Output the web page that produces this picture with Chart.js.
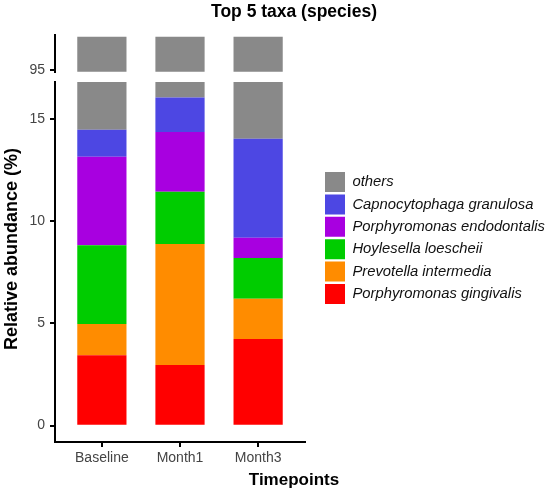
<!DOCTYPE html>
<html>
<head>
<meta charset="utf-8">
<script src="https://cdn.jsdelivr.net/npm/chart.js@4.4.0/dist/chart.umd.min.js"></script>
<style>
  html, body { margin: 0; padding: 0; background: #fff; }
  #wrap { position: relative; width: 550px; height: 495px; }
  #upper { position: absolute; left: 0; top: 0; }
  #lower { position: absolute; left: 0; top: 68px; }
</style>
</head>
<body>
<div id="wrap">
  <canvas id="upper" width="550" height="86"></canvas>
  <canvas id="lower" width="550" height="427"></canvas>
</div>
<script>
// Data (relative abundance, %)
const timepoints = ['Baseline', 'Month1', 'Month3'];
const taxa = ['Porphyromonas gingivalis', 'Prevotella intermedia', 'Hoylesella loescheii',
              'Porphyromonas endodontalis', 'Capnocytophaga granulosa', 'others'];
const pGingivalis   = [3.44, 2.97, 4.24];
const pIntermedia   = [1.53, 5.91, 1.96];
const hLoescheii    = [3.85, 2.56, 2.00];
const pEndodontalis = [4.32, 2.92, 0.99];
const cGranulosa    = [1.32, 1.68, 4.83];
const others        = [85.54, 83.96, 85.98];
const lowerTicks = [0, 5, 10, 15];
const upperTicks = [95];

const seriesValues = [pGingivalis, pIntermedia, hLoescheii, pEndodontalis, cGranulosa, others];
const taxaColors = ['#ff0000', '#ff8c00', '#00cc00', '#a800e0', '#4d47e3', '#898989'];
const chartTitle = 'Top 5 taxa (species)';
const xTitle = 'Timepoints';
const yTitle = 'Relative abundance (%)';

const FONT = "'Liberation Sans', Arial, sans-serif";
Chart.defaults.font.family = FONT;
Chart.defaults.animation = false;

function makeDatasets() {
    return taxa.map((name, i) => ({
        label: name,
        data: seriesValues[i],
        backgroundColor: taxaColors[i],
        borderWidth: 0,
        barPercentage: 0.63,
        categoryPercentage: 1,
        clip: 0
    }));
}

function xScale(display) {
    const s = {
        type: 'linear',
        stacked: true,
        display: display,
        offset: false,
        min: 0.4,
        max: 3.6,
        afterBuildTicks: sc => { sc.ticks = timepoints.map((t, i) => ({ value: i + 1 })); },
        ticks: {
            callback: v => timepoints[v - 1],
            color: '#444',
            font: { size: 14 },
            padding: 3,
            maxRotation: 0,
            autoSkip: false
        },
        grid: { offset: false, drawOnChartArea: false, color: '#000', lineWidth: 2, tickLength: 5 },
        border: { display: true, color: '#000', width: 2 }
    };
    if (display) s.afterFit = sc => { sc.height = 24; };
    return s;
}

function yScale(min, max, tickValues) {
    return {
        stacked: true,
        min: min,
        max: max,
        afterBuildTicks: s => { s.ticks = tickValues.map(v => ({ value: v })); },
        afterFit: s => { s.width = 55; },
        ticks: { color: '#444', font: { size: 14 }, padding: 5 },
        grid: { drawOnChartArea: false, color: '#000', lineWidth: 2, tickLength: 5 },
        border: { display: true, color: '#000', width: 2 }
    };
}

// empty axis used only as a spacer on the right of the plot
function gapScale(width) {
    return {
        type: 'linear',
        position: 'right',
        display: true,
        grid: { display: false },
        border: { display: false },
        ticks: { display: false },
        afterFit: s => { s.width = width; }
    };
}

// axis titles span the broken axis / the whole figure, so draw them by hand
const axisTitlePlugin = {
    id: 'axisTitles',
    afterDraw(chart) {
        const ctx = chart.ctx;
        ctx.save();
        ctx.fillStyle = '#000';
        ctx.textAlign = 'center';
        ctx.textBaseline = 'middle';
        ctx.font = 'bold 17px ' + FONT;
        ctx.fillText(xTitle, 294, 412);
        ctx.translate(12, 181);
        ctx.rotate(-Math.PI / 2);
        ctx.font = 'bold 18px ' + FONT;
        ctx.fillText(yTitle, 0, 0);
        ctx.restore();
    }
};

// Upper panel (95-100)
new Chart(document.getElementById('upper'), {
    type: 'bar',
    data: { labels: timepoints.map((t, i) => i + 1), datasets: makeDatasets() },
    options: {
        responsive: false,
        layout: { padding: { left: 0, right: -38, top: 0, bottom: 14.3 } },
        scales: {
            x: xScale(false),
            y: yScale(94.75, 100.25, upperTicks),
            gap: gapScale(283)
        },
        plugins: {
            legend: { display: false },
            tooltip: { enabled: false },
            title: {
                display: true,
                text: chartTitle,
                color: '#000',
                font: { size: 17.5, weight: 'bold' },
                padding: { top: 2, bottom: 12 }
            }
        }
    }
});

// Lower panel (0-16)
const lower = new Chart(document.getElementById('lower'), {
    type: 'bar',
    data: { labels: timepoints.map((t, i) => i + 1), datasets: makeDatasets() },
    options: {
        responsive: false,
        layout: { padding: { left: 0, right: 0, top: 14, bottom: 29 } },
        scales: {
            x: xScale(true),
            y: yScale(-0.8, 16.8, lowerTicks),
            gap: gapScale(17.6)
        },
        plugins: {
            tooltip: { enabled: false },
            legend: {
                position: 'right',
                align: 'start',
                reverse: true,
                maxWidth: 300,
                title: { display: true, text: '', font: { size: 10 }, padding: { top: 75.6, bottom: 0 } },
                labels: {
                    boxWidth: 20,
                    boxHeight: 20,
                    padding: 2.4,
                    color: '#111',
                    font: { size: 14.8, style: 'italic' }
                }
            }
        }
    },
    plugins: [axisTitlePlugin]
});

// keep the plot's right edge level with the upper panel
lower.options.layout.padding.right = lower.width - 322.6 - lower.legend.width;
lower.update();
</script>
</body>
</html>
